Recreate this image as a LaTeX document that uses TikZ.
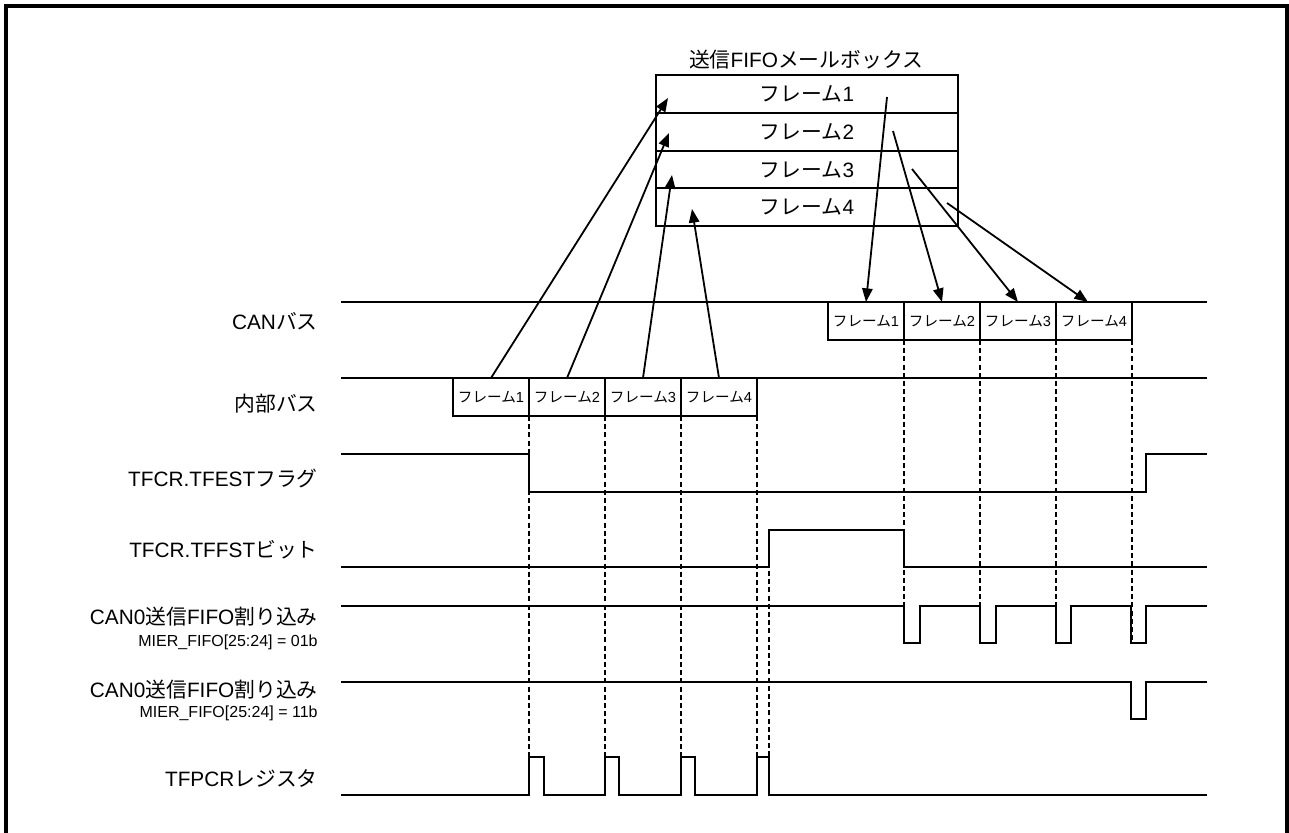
\documentclass[tikz,border=0pt]{standalone}
\usepackage{fontspec}
\setmainfont{Liberation Sans}
\newfontfamily\jpfont{Noto Sans CJK JP}
\newcommand{\jp}[1]{{\jpfont #1}}
\usetikzlibrary{arrows.meta,positioning}

\begin{document}
\begin{tikzpicture}[x=0.5pt,y=-0.5pt,>={Triangle[length=6.8pt,width=5.2pt]},
    line join=miter,
    signal/.style={line width=1pt},
    guide/.style={dashed,dash pattern=on 2.5pt off 1.6pt,line width=.6pt},
    slot/.style={draw,line width=1pt,minimum width=151pt,minimum height=18.875pt,
      inner sep=0pt,outer sep=0pt,font=\fontsize{10.4}{12}\selectfont},
    busframe/.style={draw,line width=.9pt,fill=white,minimum width=38pt,
      minimum height=19pt,inner sep=0pt,outer sep=0pt,font=\fontsize{7.3}{8}\selectfont},
    lbl/.style={anchor=east,inner sep=0pt,font=\fontsize{10.4}{12}\selectfont},
    sublbl/.style={anchor=east,inner sep=0pt,font=\fontsize{8}{9}\selectfont},
    flow/.style={->,line width=.9pt}]
    \useasboundingbox (0,0) rectangle (1289,833);

    % The outer frame, open at the bottom.
    \draw[line width=1.6pt] (6,833) -- (6,6) -- (1287,6) -- (1287,833);

    % The transmit FIFO mailbox.
    \node[slot] (mb1) at (807,94) {\jp{フレーム}1};
    \node[slot,below=0pt of mb1] (mb2) {\jp{フレーム}2};
    \node[slot,below=0pt of mb2] (mb3) {\jp{フレーム}3};
    \node[slot,below=0pt of mb3] (mb4) {\jp{フレーム}4};
    \node[inner sep=0pt,font=\fontsize{10.4}{12}\selectfont] (mbtitle) at (806,60)
      {\jp{送信}FIFO\jp{メールボックス}};

    \coordinate (in1) at (668,98);
    \coordinate (in2) at (669,133);
    \coordinate (in3) at (672,175);
    \coordinate (in4) at (692,209);
    \coordinate (out1) at (887,97);
    \coordinate (out2) at (893,131);
    \coordinate (out3) at (912,169);
    \coordinate (out4) at (947,203);

    % Signal labels.
    \node[lbl] (canlbl) at (318,321) {CAN\jp{バス}};
    \node[lbl] (intlbl) at (318,404) {\jp{内部バス}};
    \node[lbl] (estlbl) at (318,478) {TFCR.TFEST\jp{フラグ}};
    \node[lbl] (fstlbl) at (318,550) {TFCR.TFFST\jp{ビット}};
    \node[lbl] (irqalbl) at (318,617) {CAN0\jp{送信}FIFO\jp{割り込み}};
    \node[sublbl] (irqasub) at (318,642) {MIER\_FIFO[25:24] = 01b};
    \node[lbl] (irqblbl) at (318,690) {CAN0\jp{送信}FIFO\jp{割り込み}};
    \node[sublbl] (irqbsub) at (318,713) {MIER\_FIFO[25:24] = 11b};
    \node[lbl] (pcrlbl) at (318,778) {TFPCR\jp{レジスタ}};

    % Bus lines.
    \draw[signal] (341,302) -- (1207,302);
    \draw[signal] (341,378) -- (1207,378);

    % Frames on the CAN bus and on the internal bus.
    \node[busframe] (cf1) at (866,321) {\jp{フレーム}1};
    \node[busframe,right=0pt of cf1] (cf2) {\jp{フレーム}2};
    \node[busframe,right=0pt of cf2] (cf3) {\jp{フレーム}3};
    \node[busframe,right=0pt of cf3] (cf4) {\jp{フレーム}4};
    \node[busframe] (ib1) at (491,397) {\jp{フレーム}1};
    \node[busframe,right=0pt of ib1] (ib2) {\jp{フレーム}2};
    \node[busframe,right=0pt of ib2] (ib3) {\jp{フレーム}3};
    \node[busframe,right=0pt of ib3] (ib4) {\jp{フレーム}4};

    \draw[flow] (ib1.north) -- (in1);
    \draw[flow] (ib2.north) -- (in2);
    \draw[flow] (ib3.north) -- (in3);
    \draw[flow] (ib4.north) -- (in4);
    \draw[flow] (out1) -- (cf1.north);
    \draw[flow] (out2) -- (cf2.north);
    \draw[flow] (out3) -- (cf3.north);
    \draw[flow] (out4) -- ([xshift=-3pt]cf4.north);

    % Timing guides.
    \draw[guide] (ib1.south east) -- (ib1.south east |- 0,757);
    \draw[guide] (ib2.south east) -- (ib2.south east |- 0,757);
    \draw[guide] (ib3.south east) -- (ib3.south east |- 0,757);
    \draw[guide] (ib4.south east) -- (ib4.south east |- 0,757);
    \draw[guide] (769,530) -- (769,757);
    \draw[guide] (cf1.south east) -- (cf1.south east |- 0,643);
    \draw[guide] (cf2.south east) -- (cf2.south east |- 0,643);
    \draw[guide] (cf3.south east) -- (cf3.south east |- 0,643);
    \draw[guide] (cf4.south east) -- (cf4.south east |- 0,643);

    % Waveforms.
    \draw[signal] (341,454) -- (529,454) -- (529,492) -- (1146,492) -- (1146,454)
      -- (1207,454);
    \draw[signal] (341,567) -- (769,567) -- (769,530) -- (904,530) -- (904,567)
      -- (1207,567);
    \draw[signal] (341,606) -- (904,606) -- (904,643) -- (920,643) -- (920,606)
      -- (980,606) -- (980,643) -- (996,643) -- (996,606)
      -- (1056,606) -- (1056,643) -- (1071,643) -- (1071,606)
      -- (1131,606) -- (1131,643) -- (1146,643) -- (1146,606) -- (1207,606);
    \draw[signal] (341,682) -- (1131,682) -- (1131,719) -- (1146,719) -- (1146,682)
      -- (1207,682);
    \draw[signal] (341,795) -- (529,795) -- (529,757) -- (544,757) -- (544,795)
      -- (605,795) -- (605,757) -- (619,757) -- (619,795)
      -- (681,795) -- (681,757) -- (695,757) -- (695,795)
      -- (757,795) -- (757,757) -- (769,757) -- (769,795) -- (1207,795);
  \end{tikzpicture}
\end{document}
